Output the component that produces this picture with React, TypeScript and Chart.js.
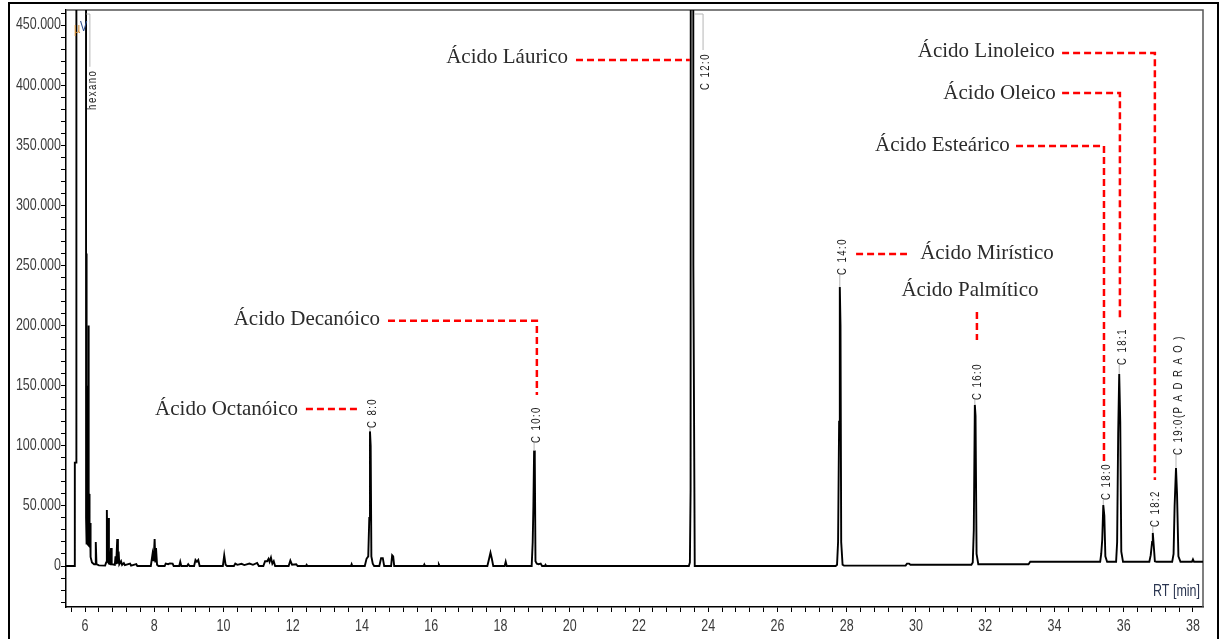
import React, { useEffect, useRef } from 'react';
import { Chart, registerables } from 'chart.js';

Chart.register(...registerables);

// ---- Chromatogram trace (retention time in min, signal in µV) ----
const traceTime = [
  5.45, 5.70, 5.705, 5.745, 5.75, 6.02, 6.03, 6.04, 6.05, 6.06, 6.07, 6.08, 6.09, 6.10, 6.11, 6.12, 6.13, 6.145, 6.16, 6.20,
  6.26, 6.29, 6.31, 6.33, 6.40, 6.58, 6.61, 6.63, 6.65, 6.67, 6.69, 6.73, 6.75, 6.77, 6.86, 6.88, 6.90, 6.93, 6.95, 6.97,
  6.99, 7.04, 7.07, 7.12, 7.15, 7.30, 7.33, 7.48, 7.51, 7.90, 7.95, 7.98, 8.01, 8.03, 8.05, 8.08, 8.12, 8.30, 8.33, 8.40,
  8.45, 8.53, 8.56, 8.72, 8.75, 8.78, 8.95, 8.98, 9.02, 9.15, 9.19, 9.23, 9.27, 9.31, 9.98, 10.02, 10.06, 10.10, 10.30, 10.34,
  10.40, 10.52, 10.60, 10.75, 10.85, 10.97, 11.02, 11.15, 11.20, 11.26, 11.30, 11.33, 11.37, 11.41, 11.45, 11.49, 11.88, 11.93, 11.98, 12.10,
  12.14, 12.38, 12.40, 12.42, 13.68, 13.70, 13.72, 14.08, 14.13, 14.18, 14.21, 14.23, 14.25, 14.27, 14.31, 14.35, 14.50, 14.55, 14.60, 14.64,
  14.84, 14.87, 14.90, 14.93, 15.78, 15.80, 15.82, 16.20, 16.22, 16.24, 17.62, 17.67, 17.71, 17.75, 17.79, 18.12, 18.15, 18.18, 18.90, 18.93,
  18.95, 18.97, 18.99, 19.01, 19.05, 19.10, 19.16, 19.20, 19.28, 19.30, 19.32, 23.44, 23.47, 23.49, 23.52, 23.545, 23.57, 23.61, 27.68, 27.72,
  27.75, 27.78, 27.80, 27.82, 27.84, 27.88, 27.92, 29.70, 29.74, 29.80, 29.84, 31.60, 31.64, 31.67, 31.70, 31.72, 31.75, 31.80, 33.25, 33.30,
  35.32, 35.35, 35.38, 35.41, 35.44, 35.47, 35.52, 35.78, 35.81, 35.84, 35.87, 35.90, 35.93, 35.98, 36.74, 36.78, 36.82, 36.84, 36.87, 36.90,
  36.95, 37.40, 37.44, 37.47, 37.51, 37.54, 37.58, 37.64, 37.97, 38.00, 38.03, 38.35,
];
const traceSignal = [
  0, 0, 86000, 86000, 3000000, 3000000, 40000, 260000, 18000, 118000, 17500, 150000, 17500, 200000, 17000, 60000, 17500, 35800, 7500, 3000,
  1500, 1500, 20000, 1500, 500, 300, 3000, 46500, 3000, 40000, 2000, 1500, 15000, 1500, 1000, 8000, 1500, 22500, 2000, 12000,
  1500, 4000, 1000, 2500, 800, 2000, 300, 1500, 0, 0, 10000, 4000, 22500, 3000, 15000, 1000, 0, 0, 2000, 1500,
  2200, 2000, 0, 0, 3500, 0, 0, 1500, 0, 0, 5000, 3500, 5000, 0, 0, 9000, 1000, 0, 0, 2000,
  1000, 1800, 800, 2000, 1000, 2500, 0, 0, 4000, 4000, 6000, 3500, 7000, 2000, 4000, 0, 0, 4500, 1000, 1500,
  0, 0, 1000, 0, 0, 1500, 0, 0, 6000, 8000, 40000, 112000, 100000, 8000, 2000, 0, 0, 6500, 6500, 0,
  0, 9000, 8000, 0, 0, 1200, 0, 0, 1200, 0, 0, 6000, 11000, 6000, 0, 0, 3500, 0, 0, 20000,
  50000, 96000, 90000, 4000, 2000, 1500, 2000, 0, 0, 1000, 0, 0, 3000, 63000, 3000000, 3000000, 250000, 0, 0, 1000,
  20000, 120000, 232000, 200000, 20000, 1000, 300, 300, 2000, 2000, 1000, 1000, 3000, 30000, 134000, 125000, 10000, 1500, 1500, 3500,
  3500, 10000, 22000, 50700, 42000, 8000, 3500, 3500, 20000, 110000, 159700, 120000, 12000, 3500, 3500, 9000, 20000, 27500, 16000, 4000,
  3500, 3500, 10000, 50000, 81500, 60000, 8000, 3500, 3500, 5500, 3500, 3500,
];

// ---- Axes ----
const xMin = 5.45;
const xMax = 38.29;
const yMin = -34100;
const yMax = 462500;
const xMajorTicks = [6, 8, 10, 12, 14, 16, 18, 20, 22, 24, 26, 28, 30, 32, 34, 36, 38];
const yMajorTicks = [0, 50000, 100000, 150000, 200000, 250000, 300000, 350000, 400000, 450000];
const xMinorStep = 0.4;
const yMinorStep = 10000;

// ---- Peak labels ----
const peakNames = ['hexano', 'C 8:0', 'C 10:0', 'C 12:0', 'C 14:0', 'C 16:0', 'C 18:0', 'C 18:1', 'C 18:2', 'C 19:0(P A D R A O )'];
const peakTimes = [5.98, 14.23, 18.97, 23.53, 27.80, 31.70, 35.41, 35.87, 36.84, 37.51];
const peakApex = [null, 112000, 96000, null, 232000, 134000, 50700, 159700, 27500, 81500];
const labelTimes = [6.14, 14.23, 18.97, 23.85, 27.80, 31.70, 35.41, 35.87, 36.84, 37.51];
const labelStart = [379400, 114800, 102300, 396000, 242100, 138100, 54900, 167200, 32400, 92300];

// ---- Fatty acid annotations ----
const acidNames = ['Ácido Octanóico', 'Ácido Decanóico', 'Ácido Láurico', 'Ácido Mirístico', 'Ácido Palmítico', 'Ácido Esteárico', 'Ácido Oleico', 'Ácido Linoleico'];
const acidTextTime = [12.15, 14.52, 19.95, 30.12, 31.56, 32.71, 34.04, 34.01];
const acidTextValue = [130600, 204700, 422600, 259600, 229600, 349400, 392700, 427600];
const acidTextAlign = ['right', 'right', 'right', 'left', 'center', 'right', 'right', 'right'];
const acidLeaders: number[][][] = [
  [[12.38, 130600], [13.86, 130600]],
  [[14.75, 204000], [19.05, 204000], [19.05, 142300]],
  [[20.18, 421000], [23.47, 421000]],
  [[28.27, 259600], [29.74, 259600]],
  [[31.76, 211300], [31.76, 188000]],
  [[32.89, 349400], [35.43, 349400], [35.43, 84000]],
  [[34.22, 393500], [35.89, 393500], [35.89, 206300]],
  [[34.22, 426800], [36.90, 426800], [36.90, 71500]],
];

const SANS = '"Liberation Sans", Arial, sans-serif';
const SERIF = '"Liberation Serif", "Times New Roman", serif';
const NARROW_X = 0.78;

const fmtThousands = (v: number) => String(v).replace(/\B(?=(\d{3})+(?!\d))/g, '.');

function narrowText(ctx: CanvasRenderingContext2D, text: string, x: number, y: number, align: CanvasTextAlign, sx = NARROW_X) {
  ctx.save();
  ctx.translate(x, y);
  ctx.scale(sx, 1);
  ctx.textAlign = align;
  ctx.fillText(text, 0, 0);
  ctx.restore();
}

const overlay = {
  id: 'overlay',
  beforeDatasetsDraw(chart: any) {
    const { ctx, chartArea: a } = chart;
    ctx.save();
    ctx.strokeStyle = '#555';
    ctx.lineWidth = 1.5;
    ctx.beginPath();
    ctx.moveTo(a.left, a.top);
    ctx.lineTo(a.right, a.top);
    ctx.lineTo(a.right, a.bottom);
    ctx.stroke();
    ctx.restore();
  },
  afterDatasetsDraw(chart: any) {
    const { ctx, chartArea: a } = chart;
    const xs = chart.scales.x;
    const ys = chart.scales.y;
    const px = (t: number) => xs.getPixelForValue(t);
    const py = (v: number) => ys.getPixelForValue(v);

    // axis tick labels (condensed)
    ctx.save();
    ctx.fillStyle = '#3a3a3a';
    ctx.font = `16px ${SANS}`;
    ctx.textBaseline = 'middle';
    yMajorTicks.forEach((v) => narrowText(ctx, fmtThousands(v), a.left - 5, py(v), 'right'));
    ctx.textBaseline = 'top';
    xMajorTicks.forEach((t) => narrowText(ctx, String(t), px(t), a.bottom + 12, 'center'));
    ctx.restore();

    // peak labels with connectors
    ctx.save();
    ctx.font = `12px ${SANS}`;
    (ctx as any).letterSpacing = '1.8px';
    peakNames.forEach((name, i) => {
      const ax = px(labelTimes[i]);
      const sy = py(labelStart[i]);
      const w = ctx.measureText(name).width * 0.8;
      ctx.strokeStyle = '#b5b5b5';
      ctx.lineWidth = 1;
      ctx.beginPath();
      if (peakApex[i] !== null) {
        ctx.moveTo(px(peakTimes[i]), py(peakApex[i] as number));
        ctx.lineTo(ax, sy);
      } else {
        const topY = a.top + 4;
        ctx.moveTo(ax, sy - w - 3);
        ctx.lineTo(ax, topY);
        ctx.lineTo(px(peakTimes[i]) + 2, topY);
      }
      ctx.stroke();
      ctx.save();
      ctx.translate(ax + 3, sy);
      ctx.rotate(-Math.PI / 2);
      ctx.scale(0.8, 1);
      ctx.fillStyle = '#1a1a1a';
      ctx.textAlign = 'left';
      ctx.textBaseline = 'middle';
      ctx.fillText(name, 0, 0);
      ctx.restore();
    });
    ctx.restore();

    // red dashed leaders
    ctx.save();
    ctx.strokeStyle = '#ff0000';
    ctx.lineWidth = 2.5;
    ctx.setLineDash([7, 4]);
    acidLeaders.forEach((path) => {
      ctx.beginPath();
      path.forEach(([t, v], k) => {
        if (k === 0) ctx.moveTo(px(t), py(v));
        else ctx.lineTo(px(t), py(v));
      });
      ctx.stroke();
    });
    ctx.restore();

    // acid names
    ctx.save();
    ctx.font = `21px ${SERIF}`;
    ctx.fillStyle = '#2b2b2b';
    ctx.textBaseline = 'middle';
    acidNames.forEach((name, i) => {
      ctx.textAlign = acidTextAlign[i] as CanvasTextAlign;
      ctx.fillText(name, px(acidTextTime[i]), py(acidTextValue[i]));
    });
    ctx.restore();

    // units
    ctx.save();
    ctx.textBaseline = 'middle';
    ctx.font = `14px ${SANS}`;
    ctx.fillStyle = '#d08a30';
    narrowText(ctx, 'µ', a.left + 8, a.top + 19, 'left');
    ctx.fillStyle = '#2c4c8c';
    narrowText(ctx, 'V', a.left + 14, a.top + 17, 'left');
    ctx.font = `16px ${SANS}`;
    ctx.fillStyle = '#2a3550';
    narrowText(ctx, 'RT [min]', a.right - 3, a.bottom - 15, 'right');
    ctx.restore();
  },
};

export default function App() {
  const canvasRef = useRef<HTMLCanvasElement | null>(null);

  useEffect(() => {
    const canvas = canvasRef.current;
    if (!canvas) return;

    const xTickValues: number[] = [];
    for (let i = Math.ceil(xMin / xMinorStep); i * xMinorStep <= xMax + 1e-9; i++) {
      xTickValues.push(Math.round(i * xMinorStep * 10) / 10);
    }
    const yTickValues: number[] = [];
    for (let i = Math.ceil(yMin / yMinorStep); i * yMinorStep <= yMax; i++) {
      yTickValues.push(i * yMinorStep);
    }

    const chart = new Chart(canvas, {
      type: 'line',
      data: {
        datasets: [
          {
            data: traceTime.map((t, i) => ({ x: t, y: traceSignal[i] })),
            borderColor: '#000',
            borderWidth: 1.9,
            pointRadius: 0,
            tension: 0,
            fill: false,
          },
        ],
      },
      options: {
        animation: false,
        responsive: false,
        devicePixelRatio: 1,
        layout: { padding: { left: 8, top: 10, right: 18, bottom: 0 } },
        plugins: { legend: { display: false }, tooltip: { enabled: false } },
        scales: {
          x: {
            type: 'linear',
            min: xMin,
            max: xMax,
            afterBuildTicks: (s: any) => {
              s.ticks = xTickValues.map((v) => ({ value: v }));
            },
            afterFit: (s: any) => {
              s.height = 32;
            },
            ticks: { display: false, autoSkip: false },
            grid: { drawOnChartArea: false, tickLength: 5, color: '#000', lineWidth: 1 },
            border: { color: '#000', width: 1.5 },
          },
          y: {
            type: 'linear',
            min: yMin,
            max: yMax,
            afterBuildTicks: (s: any) => {
              s.ticks = yTickValues.map((v) => ({ value: v }));
            },
            afterFit: (s: any) => {
              s.width = 58;
            },
            ticks: { display: false, autoSkip: false },
            grid: { drawOnChartArea: false, tickLength: 5, color: '#000', lineWidth: 1 },
            border: { color: '#000', width: 1.5 },
          },
        },
      } as any,
      plugins: [overlay as any],
    });

    return () => chart.destroy();
  }, []);

  return (
    <div style={{ position: 'fixed', left: 0, top: 0, width: 1221, height: 639, overflow: 'hidden', background: '#fff' }}>
      <canvas ref={canvasRef} width={1221} height={639} style={{ position: 'absolute', left: 0, top: 0 }} />
      <div
        style={{
          position: 'absolute',
          left: 8,
          top: 2,
          width: 1211,
          height: 700,
          border: '2px solid #000',
          boxSizing: 'border-box',
          pointerEvents: 'none',
        }}
      />
    </div>
  );
}
